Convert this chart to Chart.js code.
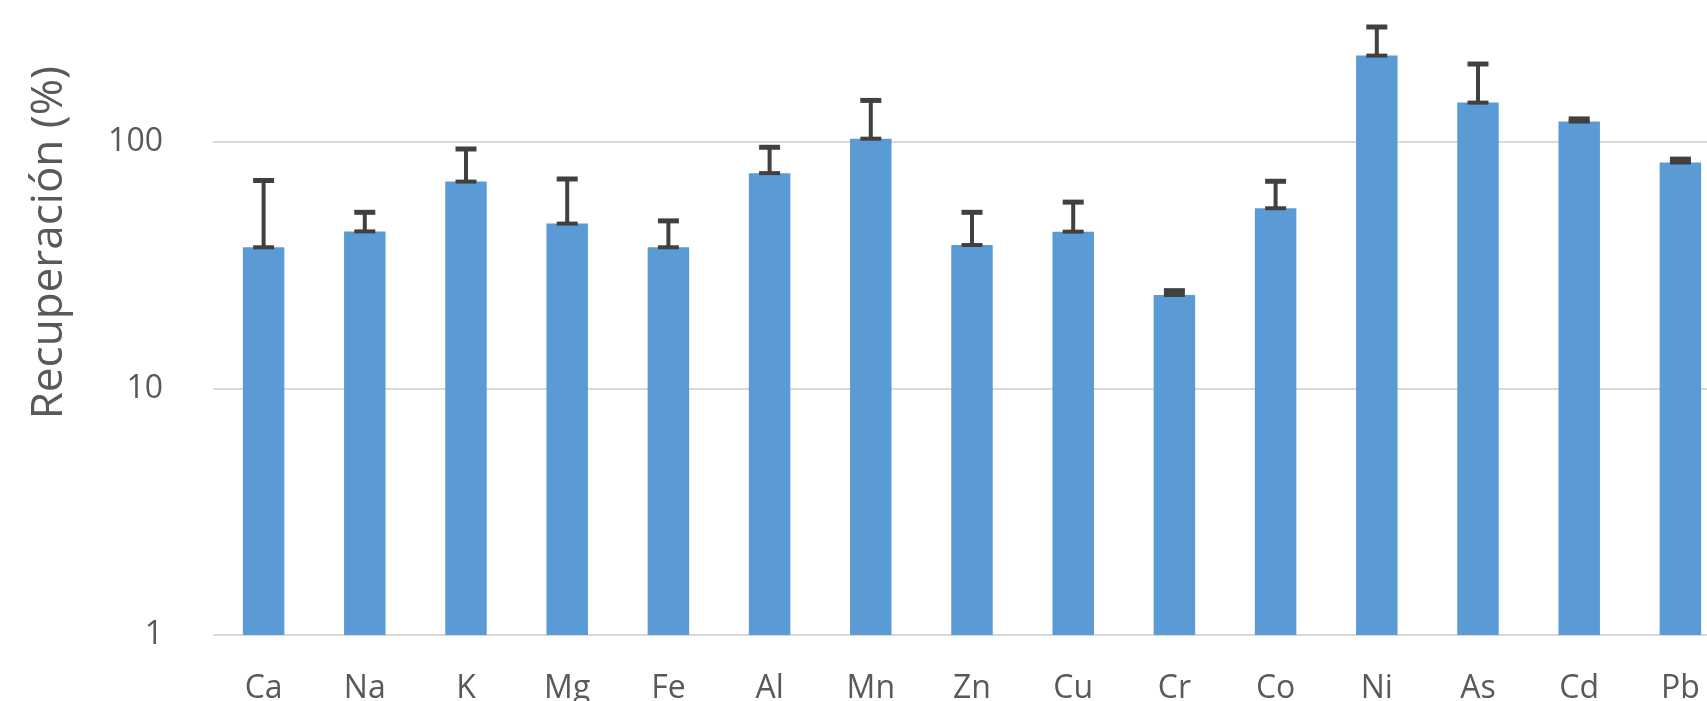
<!DOCTYPE html>
<html>
<head>
<meta charset="utf-8">
<script src="https://cdn.jsdelivr.net/npm/chart.js@4/dist/chart.umd.min.js"></script>
<style>
  html, body { margin: 0; padding: 0; background: #ffffff; overflow: hidden; width: 1707px; height: 701px; }
  #wrap { position: absolute; left: 0; top: -219.5px; width: 1731px; height: 954px; }
</style>
</head>
<body>
<div id="wrap"><canvas id="c"></canvas></div>
<script>
const categories = ['Ca','Na','K','Mg','Fe','Al','Mn','Zn','Cu','Cr','Co','Ni','As','Cd','Pb'];
const recovery   = [37.5, 43.5, 69.3, 46.8, 37.5, 75.0, 103.5, 38.3, 43.4, 24.0, 54.0, 225.0, 145.0, 121.5, 82.8];
const stdDev     = [32.5, 8.5, 24.7, 24.2, 10.5, 20.5, 44.5, 13.7, 13.8, 1.0, 15.5, 69.0, 63.0, 3.0, 2.7];
const yTicks     = [1, 10, 100];
const yTitle     = 'Recuperación (%)';

const FONT = '"Open Sans", "Noto Sans", sans-serif';
const TEXT = '#595959';

const errorBars = {
  id: 'errorBars',
  afterDatasetsDraw(chart) {
    const ctx = chart.ctx;
    const meta = chart.getDatasetMeta(0);
    const y = chart.scales.y;
    ctx.save();
    ctx.strokeStyle = '#404040';
    ctx.lineCap = 'butt';
    meta.data.forEach((bar, i) => {
      const x = bar.x;
      const yBase = y.getPixelForValue(recovery[i]);
      const yTop = y.getPixelForValue(recovery[i] + stdDev[i]);
      const half = 10.5;
      ctx.lineWidth = 4;
      ctx.beginPath();
      ctx.moveTo(x, yBase);
      ctx.lineTo(x, yTop);
      ctx.stroke();
      ctx.lineWidth = 5;
      ctx.beginPath();
      ctx.moveTo(x - half, yTop);
      ctx.lineTo(x + half, yTop);
      ctx.stroke();
      ctx.lineWidth = 4;
      ctx.beginPath();
      ctx.moveTo(x - half, yBase);
      ctx.lineTo(x + half, yBase);
      ctx.stroke();
    });
    ctx.restore();
  }
};

new Chart(document.getElementById('c'), {
  type: 'bar',
  data: {
    labels: categories,
    datasets: [{
      data: recovery,
      backgroundColor: '#5B9BD5',
      borderWidth: 0,
      barPercentage: 1.0,
      categoryPercentage: 0.41
    }]
  },
  options: {
    responsive: true,
    maintainAspectRatio: false,
    animation: false,
    layout: { padding: { top: 30, left: 0, right: 0, bottom: 0 } },
    plugins: { legend: { display: false }, tooltip: { enabled: false } },
    scales: {
      x: {
        grid: { display: false },
        border: { display: false },
        ticks: { color: TEXT, font: { family: FONT, size: 32 }, padding: 27, maxRotation: 0, autoSkip: false },
        afterFit(scale) { scale.height = 100; }
      },
      y: {
        type: 'logarithmic',
        min: 1,
        max: 1535,
        grid: { color: '#D9D9D9', lineWidth: 2, drawTicks: false },
        border: { display: false },
        afterBuildTicks(scale) { scale.ticks = yTicks.map(v => ({ value: v })); },
        ticks: {
          color: TEXT,
          font: { family: FONT, size: 32 },
          padding: 50,
          callback: (v) => String(v)
        },
        title: {
          display: true,
          text: yTitle,
          color: TEXT,
          font: { family: FONT, size: 44 },
          padding: { top: 23, bottom: 0 }
        },
        afterFit(scale) { scale.width = 213; }
      }
    }
  },
  plugins: [errorBars]
});
</script>
</body>
</html>
